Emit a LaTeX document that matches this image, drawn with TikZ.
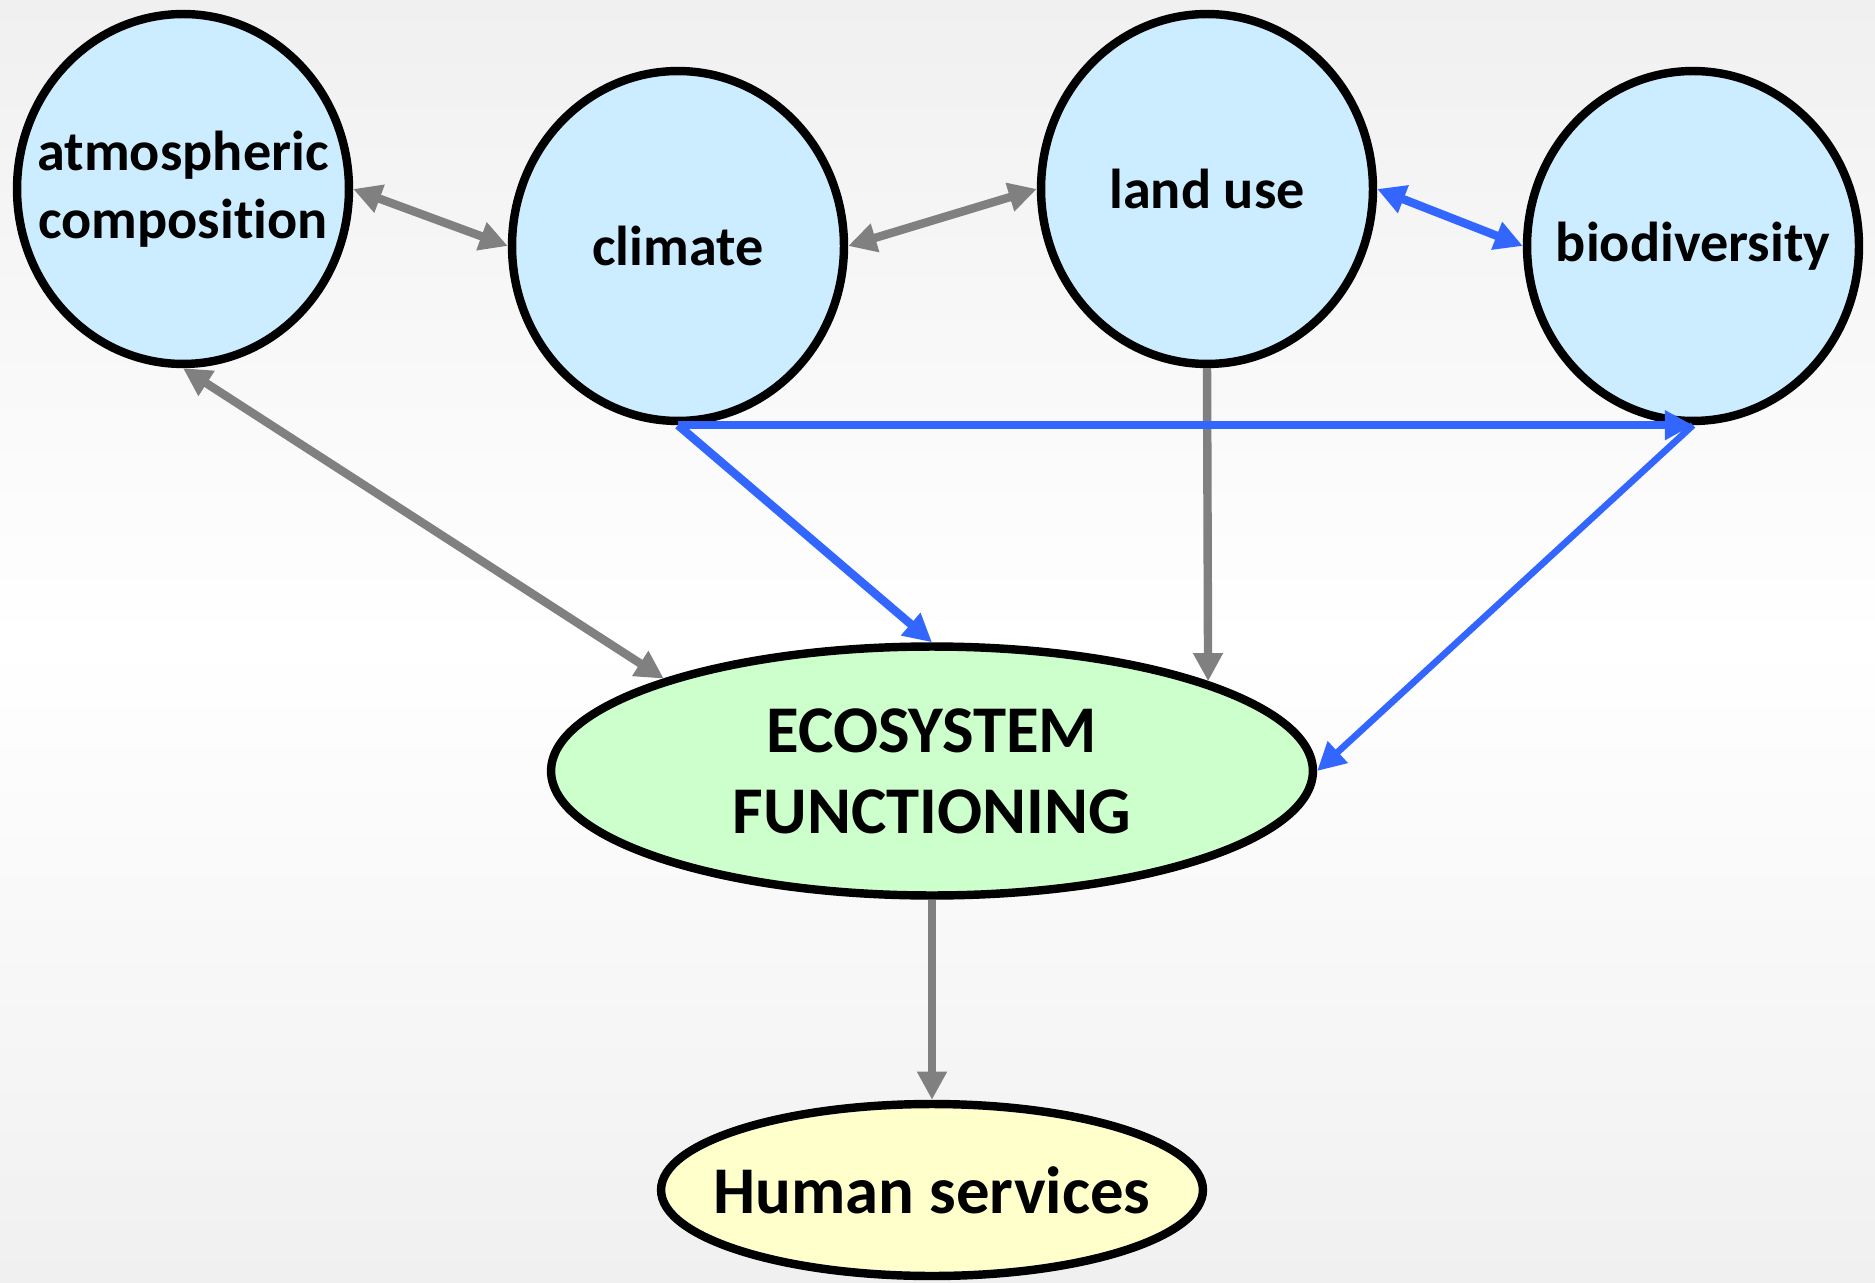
\documentclass[tikz,border=0pt]{standalone}
\usepackage{fontspec}
\setmainfont{Carlito}[Ligatures=CommonOff]
\usetikzlibrary{shapes.geometric,arrows.meta}

\definecolor{skyfill}{RGB}{204,236,255}
\definecolor{mintfill}{RGB}{204,255,204}
\definecolor{creamfill}{RGB}{255,255,204}
\definecolor{linkblue}{RGB}{51,102,255}
\definecolor{linkgray}{RGB}{128,128,128}
\definecolor{bggray}{RGB}{240,240,240}

\tikzset{
	bubble/.style={ellipse, draw, line width=4.8pt, fill=skyfill,
		minimum width=6.64cm, minimum height=7.0cm},
	lab/.style={font=\fontsize{32}{39}\selectfont\bfseries, align=center},
	biglab/.style={font=\fontsize{38}{46}\selectfont\bfseries, align=center},
	glink/.style={line width=4.8pt, draw=linkgray},
	blink/.style={line width=4.8pt, draw=linkblue},
}

\begin{document}
\begin{tikzpicture}[x=0.02cm, y=-0.02cm, >={Triangle[length=16pt,width=16pt]}]
	\shade[top color=bggray, bottom color=bggray, middle color=white] (0,0) rectangle (1875,1283);
	\useasboundingbox (0,0) rectangle (1875,1283);

	\node[bubble, label={[lab]center:{atmospheric\\composition}}] (atm) at (183,189) {};
	\node[bubble, label={[lab]center:climate}] (clim) at (678,246) {};
	\node[bubble, label={[lab]center:land use}] (land) at (1207,189) {};
	\node[bubble, label={[lab]center:biodiversity}] (bio) at (1693,246) {};
	\node[ellipse, draw, line width=4.8pt, fill=mintfill, minimum width=15.24cm, minimum height=4.98cm,
		label={[biglab]center:{ECOSYSTEM\\FUNCTIONING}}] (eco) at (932,771) {};
	\node[ellipse, draw, line width=4.8pt, fill=creamfill, minimum width=10.84cm, minimum height=3.44cm,
		label={[biglab]center:Human services}] (hum) at (932,1190) {};

	\draw[glink, <->, fill=linkgray] (atm.east) -- (clim.west);
	\draw[glink, <->, fill=linkgray] (clim.east) -- (land.west);
	\draw[blink, <->, fill=linkblue] (land.east) -- (bio.west);
	\draw[glink, <->, fill=linkgray] (atm.south) -- (eco.161);
	\draw[glink, ->, fill=linkgray] (land.south) -- (eco.18);
	\draw[blink, ->, fill=linkblue] (clim.south) -- (eco.north);
	\draw[blink, ->, fill=linkblue] (clim.south) -- (bio.south);
	\draw[blink, line width=3.8pt, ->, fill=linkblue] (bio.south) -- (eco.east);
	\draw[glink, ->, fill=linkgray] (eco.south) -- (hum.north);
\end{tikzpicture}
\end{document}
